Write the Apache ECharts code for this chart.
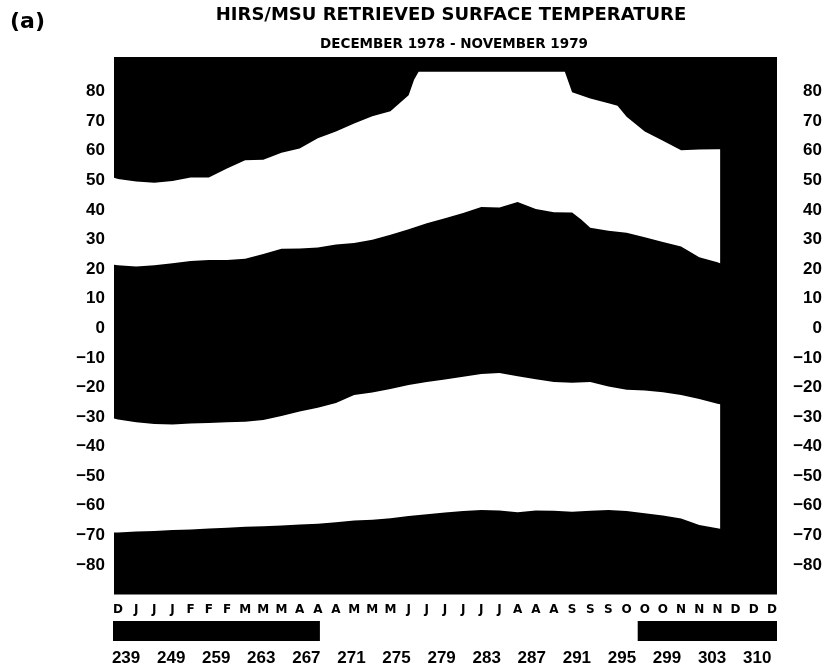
<!DOCTYPE html>
<html>
<head>
<meta charset="utf-8">
<title>HIRS/MSU Retrieved Surface Temperature</title>
<script src="https://cdn.jsdelivr.net/npm/echarts@6/dist/echarts.min.js"></script>
<style>
  html, body { margin: 0; padding: 0; background: #fff; }
  #chart { width: 825px; height: 671px; }
</style>
</head>
<body>
<div id="chart"></div>
<script>
// Time axis: one column per week-ish step, Dec 1978 .. Dec 1979
const monthLetters = ['D','J','J','J','F','F','F','M','M','M','A','A','A','M','M','M',
  'J','J','J','J','J','J','A','A','A','S','S','S','O','O','O','N','N','N','D','D','D'];

// Latitude tick labels
const latTicks = [80, 70, 60, 50, 40, 30, 20, 10, 0, -10, -20, -30, -40, -50, -60, -70, -80];

// Boundaries of the temperate (white) classes, as [time step, latitude]
// Poleward edge of the northern band
const northPolarEdge = [
  [-0.22, 50.9], [0, 50.5], [1, 49.6], [2, 49.2], [3, 49.8], [4, 51.0], [5, 51.0],
  [6, 54.0], [7, 56.8], [8, 57.0], [9, 59.3], [10, 60.8], [11, 64.2], [12, 66.5],
  [13, 69.2], [14, 71.7], [15, 73.4], [16, 78.8], [16.3, 84.0], [16.55, 86.7],
  [24.6, 86.7], [25, 79.8], [26, 77.7], [27, 76.1], [27.5, 75.2], [28, 71.5],
  [29, 66.5], [30, 63.4], [31, 60.2], [32, 60.4], [33, 60.5], [33.15, 60.5]
];
// Equatorward edge of the northern band
const northTropicEdge = [
  [-0.22, 21.5], [0, 21.3], [1, 20.9], [2, 21.3], [3, 22.0], [4, 22.7], [5, 23.1],
  [6, 23.1], [7, 23.5], [8, 25.1], [9, 26.9], [10, 27.0], [11, 27.3], [12, 28.3],
  [13, 28.8], [14, 29.9], [15, 31.6], [16, 33.5], [17, 35.5], [18, 37.2], [19, 39.0],
  [20, 41.0], [21, 40.8], [22, 42.7], [23, 40.3], [24, 39.2], [25, 39.1], [25.5, 36.8],
  [26, 34.0], [27, 33.0], [28, 32.3], [29, 30.8], [30, 29.2], [31, 27.6], [32, 24.0],
  [33, 22.3], [33.15, 22.0]
];
// Equatorward edge of the southern band
const southTropicEdge = [
  [-0.22, -30.5], [0, -30.8], [1, -31.8], [2, -32.4], [3, -32.5], [4, -32.2], [5, -32.0],
  [6, -31.8], [7, -31.6], [8, -31.0], [9, -29.7], [10, -28.1], [11, -26.9], [12, -25.3],
  [13, -22.6], [14, -21.7], [15, -20.5], [16, -19.2], [17, -18.2], [18, -17.3], [19, -16.4],
  [20, -15.5], [21, -15.1], [22, -16.2], [23, -17.2], [24, -18.2], [25, -18.4], [26, -18.2],
  [27, -19.7], [28, -20.8], [29, -21.0], [30, -21.6], [31, -22.6], [32, -23.9], [33, -25.5],
  [33.15, -25.7]
];
// Poleward edge of the southern band
const southPolarEdge = [
  [-0.22, -69.0], [0, -69.0], [1, -68.7], [2, -68.5], [3, -68.2], [4, -68.0], [5, -67.7],
  [6, -67.4], [7, -67.1], [8, -66.9], [9, -66.7], [10, -66.3], [11, -66.1], [12, -65.6],
  [13, -65.0], [14, -64.7], [15, -64.2], [16, -63.5], [17, -62.9], [18, -62.3], [19, -61.8],
  [20, -61.4], [21, -61.6], [22, -62.2], [23, -61.6], [24, -61.7], [25, -62.0], [26, -61.7],
  [27, -61.4], [28, -61.8], [29, -62.5], [30, -63.3], [31, -64.3], [32, -66.5], [33, -67.6],
  [33.15, -67.8]
];

// Temperature scale (K) and the range drawn white
const scaleTicks = [239, 249, 259, 263, 267, 271, 275, 279, 283, 287, 291, 295, 299, 303, 310];
const whiteRange = [268.2, 296.4];

// Position of a temperature along the (unevenly spaced) scale, in tick units
function scalePos(t) {
  for (let i = 0; i < scaleTicks.length - 1; i++) {
    if (t <= scaleTicks[i + 1]) {
      return i + (t - scaleTicks[i]) / (scaleTicks[i + 1] - scaleTicks[i]);
    }
  }
  return scaleTicks.length - 1;
}

const numFont = 'Liberation Sans, Arial, sans-serif';
const wideFont = 'DejaVu Sans, Verdana, sans-serif';

const timeMin = -0.22, timeMax = 36.28;
const scaleMin = -0.29, scaleMax = 14.44;

// A white band bounded by two edges, projected through the chart's axes
function bandSeries(upper, lower) {
  return {
    type: 'custom',
    xAxisIndex: 0, yAxisIndex: 0,
    silent: true,
    clip: true,
    z: 3,
    data: [[upper[0][0], upper[0][1]]],
    renderItem: function (params, api) {
      const pts = upper.map(p => api.coord(p))
        .concat(lower.slice().reverse().map(p => api.coord(p)));
      return { type: 'polygon', shape: { points: pts }, style: { fill: '#fff', stroke: null } };
    }
  };
}

const fmtLat = v => (v < 0 ? '\u2212' + Math.abs(v) : String(v));

const option = {
  animation: false,
  backgroundColor: '#fff',
  graphic: [
    { type: 'text', left: 10, top: 11,
      style: { text: '(a)', font: 'bold 22px ' + wideFont, fill: '#000' } },
    { type: 'text', x: 451, y: 15,
      style: { text: 'HIRS/MSU RETRIEVED SURFACE TEMPERATURE', font: 'bold 18px ' + wideFont,
               fill: '#000', align: 'center', verticalAlign: 'middle' } },
    { type: 'text', x: 454, y: 44,
      style: { text: 'DECEMBER 1978 - NOVEMBER 1979', font: 'bold 13.5px ' + wideFont,
               fill: '#000', align: 'center', verticalAlign: 'middle' } }
  ],
  grid: [
    { left: 114, right: 47.5, top: 57, bottom: 76.5, show: true,
      backgroundColor: '#000', borderWidth: 0 },
    { left: 113, right: 48, top: 621, height: 20, show: false }
  ],
  xAxis: [
    { gridIndex: 0, type: 'value', min: timeMin, max: timeMax,
      axisLine: { show: false }, axisTick: { show: false }, splitLine: { show: false },
      axisLabel: {
        customValues: monthLetters.map((_, i) => i),
        formatter: v => monthLetters[Math.round(v)] || '',
        margin: 9, color: '#000', fontFamily: wideFont, fontWeight: 'bold', fontSize: 12
      } },
    { gridIndex: 1, type: 'value', min: scaleMin, max: scaleMax,
      axisLine: { show: false }, axisTick: { show: false }, splitLine: { show: false },
      axisLabel: {
        customValues: scaleTicks.map((_, i) => i),
        formatter: v => String(scaleTicks[Math.round(v)]),
        margin: 9, color: '#000', fontFamily: numFont, fontWeight: 'bold', fontSize: 17
      } }
  ],
  yAxis: [
    { gridIndex: 0, type: 'value', min: -90, max: 91.7, position: 'left',
      axisLine: { show: false }, axisTick: { show: false }, splitLine: { show: false },
      axisLabel: { customValues: latTicks, formatter: fmtLat, margin: 9,
        color: '#000', fontFamily: numFont, fontWeight: 'bold', fontSize: 17 } },
    { gridIndex: 0, type: 'value', min: -90, max: 91.7, position: 'right',
      axisLine: { show: false }, axisTick: { show: false }, splitLine: { show: false },
      axisLabel: { customValues: latTicks, formatter: fmtLat, margin: 45, align: 'right',
        color: '#000', fontFamily: numFont, fontWeight: 'bold', fontSize: 17 } },
    { gridIndex: 1, type: 'value', min: 0, max: 1, show: false }
  ],
  series: [
    bandSeries(northPolarEdge, northTropicEdge),
    bandSeries(southTropicEdge, southPolarEdge),
    // Colour scale bar: black everywhere, white over the temperate range
    { type: 'line', xAxisIndex: 1, yAxisIndex: 2, silent: true, showSymbol: false, z: 2,
      data: [[scaleMin, 1], [scaleMax, 1]],
      lineStyle: { width: 0, opacity: 0 },
      areaStyle: { color: '#000', opacity: 1, origin: 'start' } },
    { type: 'line', xAxisIndex: 1, yAxisIndex: 2, silent: true, showSymbol: false, z: 3,
      data: whiteRange.map(t => [scalePos(t), 1]),
      lineStyle: { width: 0, opacity: 0 },
      areaStyle: { color: '#fff', opacity: 1, origin: 'start' } }
  ]
};

const chart = echarts.init(document.getElementById('chart'), null, { renderer: 'canvas' });
chart.setOption(option);
</script>
</body>
</html>
